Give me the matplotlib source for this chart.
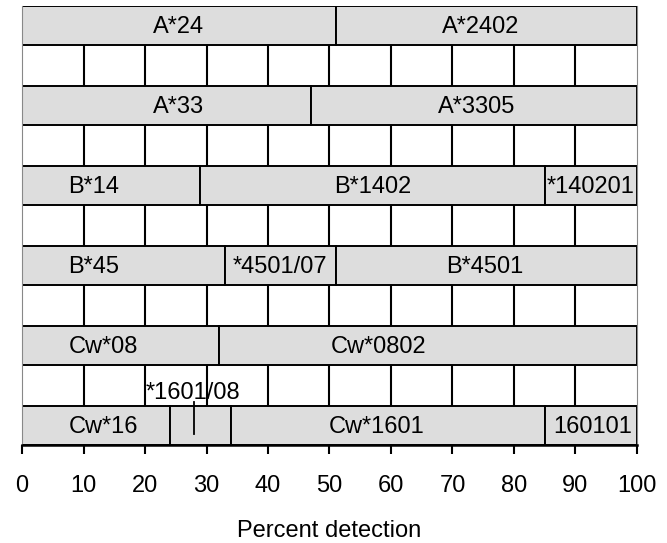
import matplotlib
matplotlib.use('Agg')
import matplotlib.pyplot as plt

plt.rcParams['font.family'] = ['Liberation Sans', 'DejaVu Sans']

# one row per locus group, top to bottom
rows = ['A*24', 'A*33', 'B*14', 'B*45', 'Cw*08', 'Cw*16']

seg_names = [
    ['A*24', 'A*2402'],
    ['A*33', 'A*3305'],
    ['B*14', 'B*1402', '*140201'],
    ['B*45', '*4501/07', 'B*4501'],
    ['Cw*08', 'Cw*0802'],
    ['Cw*16', '*1601/08', 'Cw*1601', '160101'],
]
seg_values = [
    [51, 49],
    [47, 53],
    [29, 56, 15],
    [33, 18, 49],
    [32, 68],
    [24, 10, 51, 15],
]
# where each label sits along the bar (percent)
label_x = [
    [25.4, 74.6],
    [25.4, 74.0],
    [11.7, 57.0, 92.5],
    [11.7, 42.0, 75.3],
    [13.2, 58.0],
    [13.2, 27.8, 57.7, 92.8],
]
# the one label that sits above its bar, with a pointer line
above_label = '*1601/08'
pointer_x = 28

fig = plt.figure(figsize=(6.67, 5.43), dpi=100)
ax = fig.add_axes([0.033, 0.1805, 0.922, 0.8085])

bar_h = 0.49
for i in range(len(rows)):
    left = 0
    for j in range(len(seg_values[i])):
        w = seg_values[i][j]
        ax.barh(i, w, left=left, height=bar_h, color='#dddddd',
                edgecolor='black', linewidth=1.4, zorder=2)
        name = seg_names[i][j]
        if name == above_label:
            ax.text(label_x[i][j], i - 0.40, name, ha='center', va='center',
                    fontsize=17, zorder=4)
            ax.plot([pointer_x, pointer_x], [i - 0.29, i + 0.11],
                    color='black', linewidth=1.3, zorder=3)
        else:
            ax.text(label_x[i][j], i + 0.02, name, ha='center', va='center',
                    fontsize=17, zorder=4)
        left += w

ax.set_xlim(0, 100)
ax.set_ylim(len(rows) - 1 + bar_h/2, -bar_h/2)
ax.set_xticks(range(0, 101, 10))
ax.set_yticks([])
ax.tick_params(axis='x', labelsize=17, length=6.5, width=1.5, pad=15)
ax.set_xlabel('Percent detection', fontsize=17, labelpad=17)

ax.set_axisbelow(True)
ax.xaxis.grid(True, color='black', linewidth=1.5)
gl = ax.get_xgridlines()
gl[0].set_visible(False)
gl[-1].set_visible(False)

ax.spines['top'].set_visible(False)
ax.spines['left'].set_color('#888888')
ax.spines['right'].set_color('#888888')
ax.spines['bottom'].set_linewidth(1.8)

fig.savefig('out.png', dpi=100)
